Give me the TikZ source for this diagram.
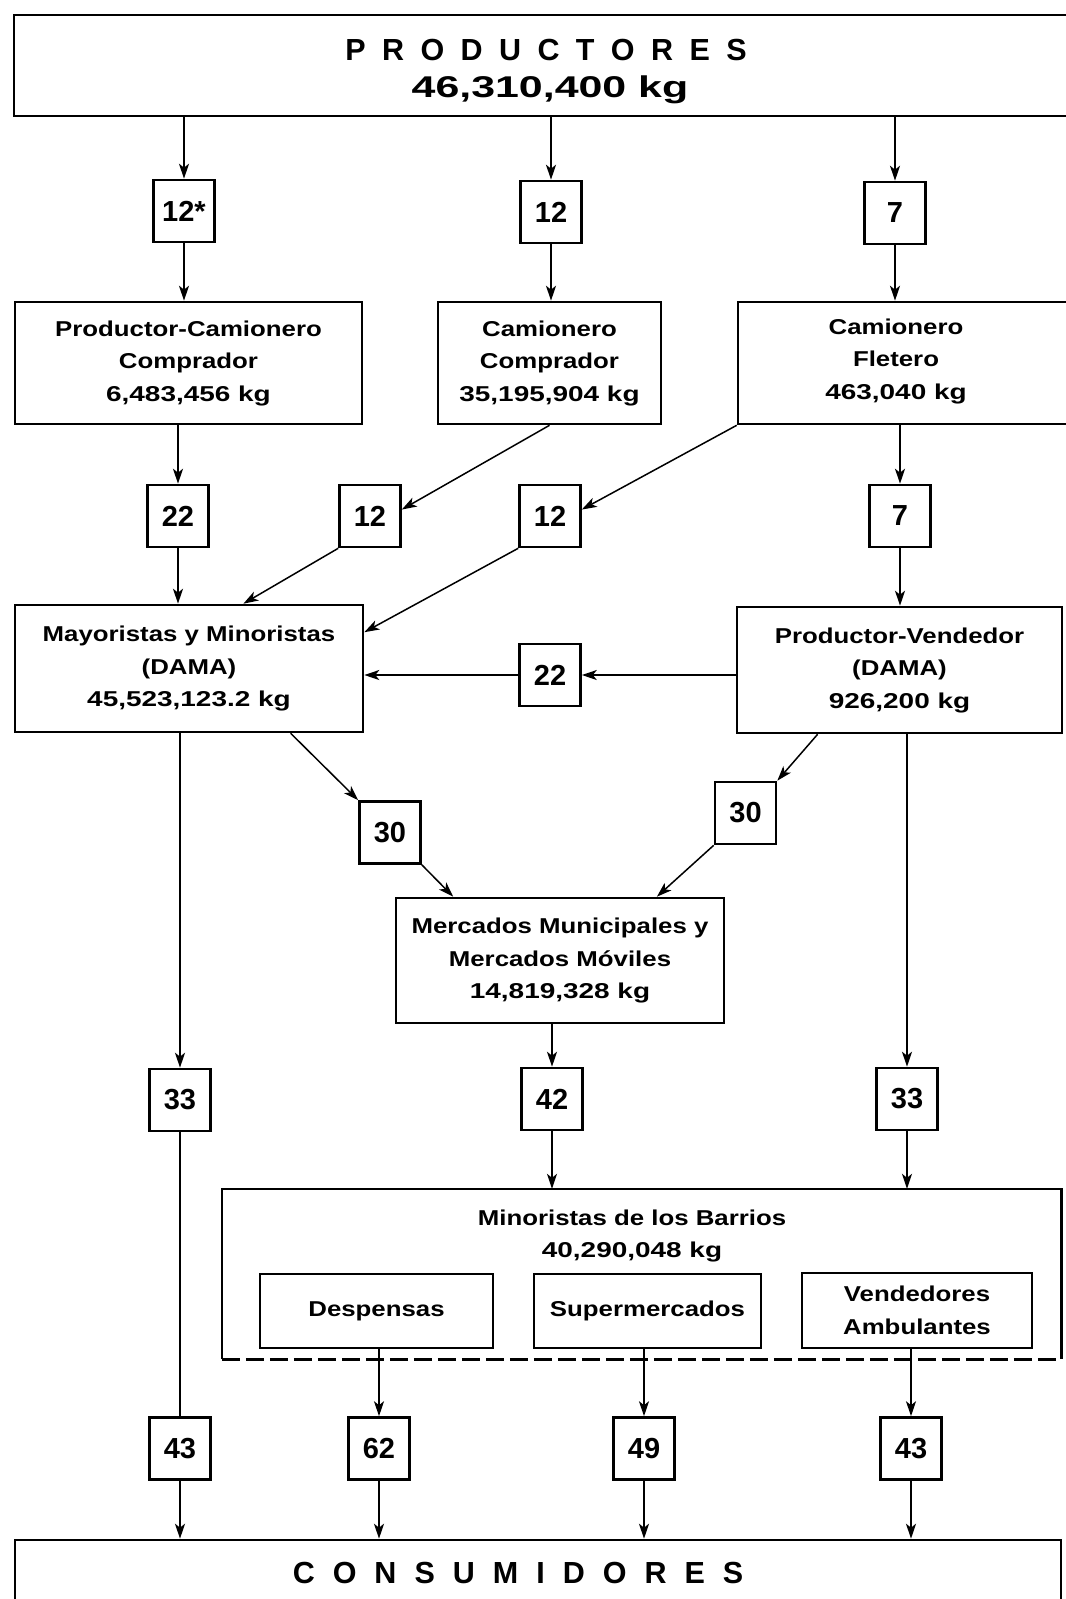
\documentclass[tikz,border=0pt]{standalone}
\usepackage{fontspec}
\setmainfont{Liberation Sans}
\newfontfamily\labfont[FakeStretch=1.2]{Liberation Sans}
\newfontfamily\kgf[FakeStretch=1.3]{Liberation Sans}
\newfontfamily\titlefont{Liberation Sans}
\newfontfamily\titlenumfont[FakeStretch=1.43]{Liberation Sans}
\usetikzlibrary{arrows.meta,calc}
\tikzset{
  boxst/.style={draw, line width=2.6pt, inner sep=0pt, align=center,
    font=\labfont\bfseries\fontsize{21.5}{32.5}\selectfont},
  labst/.style={inner sep=0pt, align=center,
    font=\labfont\bfseries\fontsize{21.5}{32.5}\selectfont},
  numst/.style={draw, line width=2.6pt, minimum width=61pt, minimum height=62pt,
    inner sep=0pt, font=\titlefont\bfseries\fontsize{29}{29}\selectfont},
  arr/.style={line width=1.5pt, -{Stealth[length=15pt,width=10pt,inset=4pt]}},
  ln/.style={line width=1.5pt}
}
\begin{document}
\begin{tikzpicture}[x=1pt,y=-1pt]
\useasboundingbox (0,0) rectangle (1066,1599);
\fill[white] (0,0) rectangle (1066,1599);
\clip (0,0) rectangle (1066,1599);

% top
\node[boxst, minimum width=1064pt, minimum height=101pt] (PR) at (546,65.5) {};
\node[anchor=base, inner sep=0pt, font=\titlefont\bfseries\fontsize{30.5}{30.5}\selectfont] (PRa) at (546,60)
  {P\hspace{16.4pt}R\hspace{16.4pt}O\hspace{16.4pt}D\hspace{16.4pt}U\hspace{16.4pt}C\hspace{16.4pt}T\hspace{16.4pt}O\hspace{16.4pt}R\hspace{16.4pt}E\hspace{16.4pt}S};
\node[anchor=base, inner sep=0pt, font=\titlenumfont\bfseries\fontsize{30}{30}\selectfont] (PRb) at (550,97) {46,310,400 kg};

\node[numst] (A1) at (184,211) {12*};
\node[numst] (A2) at (551,212) {12};
\node[numst] (A3) at (895,213) {7};

\node[boxst, minimum width=347pt, minimum height=122pt] (PC) at (188.5,363) {Productor-Camionero\\Comprador\\{\kgf 6,483,456 kg}};
\node[boxst, minimum width=223pt, minimum height=122pt] (CC) at (549.5,363) {Camionero\\Comprador\\{\kgf 35,195,904 kg}};
\node[boxst, minimum width=340pt, minimum height=122pt] (CF) at (908,363) {};
\node[labst] (CFt) at (896,361) {Camionero\\Fletero\\{\kgf 463,040 kg}};

\node[numst] (B1) at (178,516) {22};
\node[numst] (B2) at (370,516) {12};
\node[numst] (B3) at (550,516) {12};
\node[numst] (B4) at (900,516) {7};

\node[boxst, minimum width=348pt, minimum height=127pt] (MM) at (189,668.5) {Mayoristas y Minoristas\\(DAMA)\\{\kgf 45,523,123.2 kg}};
\node[boxst, minimum width=325pt, minimum height=126pt] (PV) at (899.5,670) {Productor-Vendedor\\(DAMA)\\{\kgf 926,200 kg}};
\node[numst] (B5) at (550,675) {22};

\node[numst] (C1) at (390,832.5) {30};
\node[numst] (C2) at (745.5,813) {30};

\node[boxst, minimum width=328pt, minimum height=125pt] (ME) at (560,960.5) {Mercados Municipales y\\Mercados Móviles\\{\kgf 14,819,328 kg}};

\node[numst] (D1) at (180,1100) {33};
\node[numst] (D2) at (552,1099) {42};
\node[numst] (D3) at (907,1099) {33};

\node[inner sep=0pt, minimum width=839pt, minimum height=170pt] (BR) at (641.5,1274) {};
\draw[line width=2.6pt] (BR.south west) -- (BR.north west) -- (BR.north east) -- (BR.south east);
\draw[line width=2.6pt, dash pattern=on 18pt off 6pt] (BR.south west) -- (BR.south east);
\node[labst] (BRt) at (632,1236) {Minoristas de los Barrios\\{\kgf 40,290,048 kg}};
\node[boxst, minimum width=233pt, minimum height=74pt] (DS) at (376.5,1311) {Despensas};
\node[boxst, minimum width=227pt, minimum height=74pt] (SM) at (647.5,1311) {Supermercados};
\node[boxst, minimum width=230pt, minimum height=75pt] (VA) at (917,1310.5) {Vendedores\\Ambulantes};

\node[numst] (E1) at (180,1448.5) {43};
\node[numst] (E2) at (379,1448.5) {62};
\node[numst] (E3) at (644,1448.5) {49};
\node[numst] (E4) at (911,1448.5) {43};

\node[boxst, minimum width=1046pt, minimum height=80pt] (CO) at (538,1580) {};
\node[anchor=base, inner sep=0pt, font=\titlefont\bfseries\fontsize{30.5}{30.5}\selectfont] (COt) at (518,1583)
  {C\hspace{18pt}O\hspace{18pt}N\hspace{18pt}S\hspace{18pt}U\hspace{18pt}M\hspace{18pt}I\hspace{18pt}D\hspace{18pt}O\hspace{18pt}R\hspace{18pt}E\hspace{18pt}S};

% connectors
\draw[arr] (A1.north |- PR.south) -- (A1.north);
\draw[arr] (A2.north |- PR.south) -- (A2.north);
\draw[arr] (A3.north |- PR.south) -- (A3.north);
\draw[arr] (A1.south) -- (A1.south |- PC.north);
\draw[arr] (A2.south) -- (A2.south |- CC.north);
\draw[arr] (A3.south) -- (A3.south |- CF.north);

\draw[arr] (B1.north |- PC.south) -- (B1.north);
\draw[arr] (CC.south) -- ($(B2.north east)!0.4!(B2.south east)$);
\draw[arr] (CF.south west) -- ($(B3.north east)!0.4!(B3.south east)$);
\draw[arr] (B4.north |- CF.south) -- (B4.north);

\draw[arr] (B1.south) -- (B1.south |- MM.north);
\draw[arr] (B2.south west) -- ($(MM.north west)!0.655!(MM.north east)$);
\draw[arr] (B3.south west) -- ($(MM.north east)!0.22!(MM.south east)$);
\draw[arr] (B4.south) -- (B4.south |- PV.north);

\draw[arr] (PV.west |- B5.east) -- (B5.east);
\draw[arr] (B5.west) -- (B5.west -| MM.east);

\draw[arr] ($(MM.south west)!0.79!(MM.south east)$) -- (C1.north west);
\draw[arr] ($(PV.south west)!0.25!(PV.south east)$) -- (C2.north east);
\draw[arr] (C1.south east) -- ($(ME.north west)!0.177!(ME.north east)$);
\draw[arr] (C2.south west) -- ($(ME.north west)!0.793!(ME.north east)$);

\draw[arr] (D1.north |- MM.south) -- (D1.north);
\draw[arr] (D2.north |- ME.south) -- (D2.north);
\draw[arr] (D3.north |- PV.south) -- (D3.north);

\draw[ln] (D1.south) -- (E1.north);
\draw[arr] (D2.south) -- (D2.south |- BR.north);
\draw[arr] (D3.south) -- (D3.south |- BR.north);

\draw[arr] (E2.north |- DS.south) -- (E2.north);
\draw[arr] (E3.north |- SM.south) -- (E3.north);
\draw[arr] (E4.north |- VA.south) -- (E4.north);

\draw[arr] (E1.south) -- (E1.south |- CO.north);
\draw[arr] (E2.south) -- (E2.south |- CO.north);
\draw[arr] (E3.south) -- (E3.south |- CO.north);
\draw[arr] (E4.south) -- (E4.south |- CO.north);
\end{tikzpicture}
\end{document}
